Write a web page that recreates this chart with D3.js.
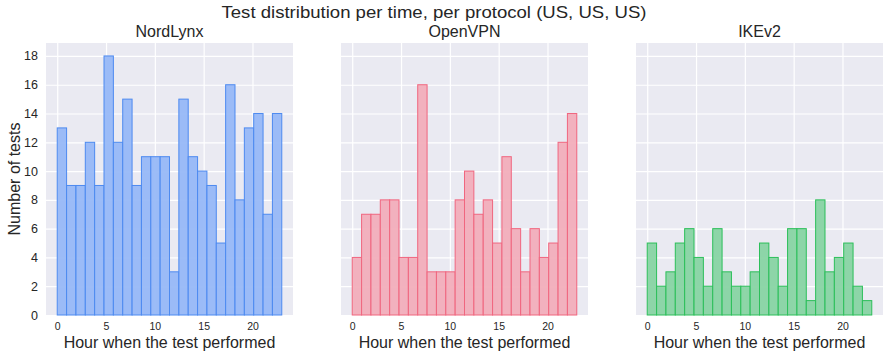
<!DOCTYPE html>
<html><head><meta charset="utf-8">
<script src="https://cdn.jsdelivr.net/npm/d3@7"></script>
<style>body{margin:0;background:#fff}svg{display:block;font-family:"Liberation Sans",Arial,sans-serif}</style>
</head><body><svg id="c" width="889" height="356"></svg>
<script>
const suptitle = "Test distribution per time, per protocol (US, US, US)";
const protocols = ["NordLynx", "OpenVPN", "IKEv2"];
const nordlynx = [13, 9, 9, 12, 9, 18, 12, 15, 9, 11, 11, 11, 3, 15, 11, 10, 9, 5, 16, 8, 13, 14, 7, 14];
const openvpn  = [4, 7, 7, 8, 8, 4, 4, 16, 3, 3, 3, 8, 10, 7, 8, 5, 11, 6, 3, 6, 4, 5, 12, 14];
const ikev2    = [5, 2, 3, 5, 6, 4, 2, 6, 3, 2, 2, 3, 5, 4, 2, 6, 6, 1, 8, 3, 4, 5, 2, 1];
const xTicks = [0, 5, 10, 15, 20];
const yTicks = [0, 2, 4, 6, 8, 10, 12, 14, 16, 18];
const fills = ["#97b8f7", "#f2aebb", "#88d4a3"];
const edges = ["#4d8af0", "#f0667f", "#2cbf5a"];
const xLabel = "Hour when the test performed";
const yLabel = "Number of tests";

const series = [nordlynx, openvpn, ikev2];
const svg = d3.select("#c");
const FONT = "Liberation Sans, Arial, sans-serif";
const panelX = [46, 341, 636];
const pw = 247, plotTop = 43, plotBottom = 315;
const nb = 24, lo = 0, hi = 23, bw = (hi - lo) / nb;

svg.append("text").attr("x", 434).attr("y", 18).attr("text-anchor", "middle")
  .attr("font-size", 16.5).attr("textLength", 425).attr("lengthAdjust", "spacingAndGlyphs")
  .attr("fill", "#262626").text(suptitle);

const y = d3.scaleLinear().domain([0, 18.9]).range([plotBottom, plotTop]);

series.forEach((vals, i) => {
  const x = d3.scaleLinear().domain([lo - 1.15, hi + 1.15]).range([panelX[i], panelX[i] + pw]);
  const g = svg.append("g");
  g.append("rect").attr("x", panelX[i]).attr("y", plotTop).attr("width", pw).attr("height", plotBottom - plotTop).attr("fill", "#eaeaf2");
  g.append("g").attr("transform", `translate(0,${plotBottom})`)
    .call(d3.axisBottom(x).tickValues(xTicks).tickSize(-(plotBottom - plotTop)).tickFormat(""))
    .call(s => { s.select(".domain").remove(); s.selectAll("line").attr("stroke", "#fff").attr("stroke-width", 1.2); });
  g.append("g").attr("transform", `translate(${panelX[i]},0)`)
    .call(d3.axisLeft(y).tickValues(yTicks).tickSize(-pw).tickFormat(""))
    .call(s => { s.select(".domain").remove(); s.selectAll("line").attr("stroke", "#fff").attr("stroke-width", 1.2); });
  g.selectAll("rect.bar").data(vals).join("rect").attr("class", "bar")
    .attr("x", (d, j) => x(lo + j * bw))
    .attr("width", (d, j) => x(lo + (j + 1) * bw) - x(lo + j * bw))
    .attr("y", d => y(d)).attr("height", d => y(0) - y(d))
    .attr("fill", fills[i]).attr("fill-opacity", 0.95)
    .attr("stroke", edges[i]).attr("stroke-width", 1);
  g.append("g").attr("transform", `translate(0,${plotBottom})`)
    .call(d3.axisBottom(x).tickValues(xTicks).tickSize(0).tickPadding(8).tickFormat(d3.format("d")))
    .call(s => { s.select(".domain").remove(); s.selectAll("text").attr("font-size", 10.5).attr("fill", "#262626").attr("font-family", FONT); });
  if (i === 0) {
    g.append("g").attr("transform", `translate(${panelX[i]},0)`)
      .call(d3.axisLeft(y).tickValues(yTicks).tickSize(0).tickPadding(8).tickFormat(d3.format("d")))
      .call(s => { s.select(".domain").remove(); s.selectAll("text").attr("font-size", 12.5).attr("fill", "#262626").attr("font-family", FONT); });
    svg.append("text").attr("transform", `translate(20,${(plotTop + plotBottom) / 2}) rotate(-90)`)
      .attr("text-anchor", "middle").attr("font-size", 16).attr("fill", "#262626").text(yLabel);
  }
  svg.append("text").attr("x", panelX[i] + pw / 2).attr("y", 37).attr("text-anchor", "middle")
    .attr("font-size", 16).attr("fill", "#262626").text(protocols[i]);
  svg.append("text").attr("x", panelX[i] + pw / 2).attr("y", 348).attr("text-anchor", "middle")
    .attr("font-size", 16).attr("fill", "#262626").text(xLabel);
});
</script></body></html>
